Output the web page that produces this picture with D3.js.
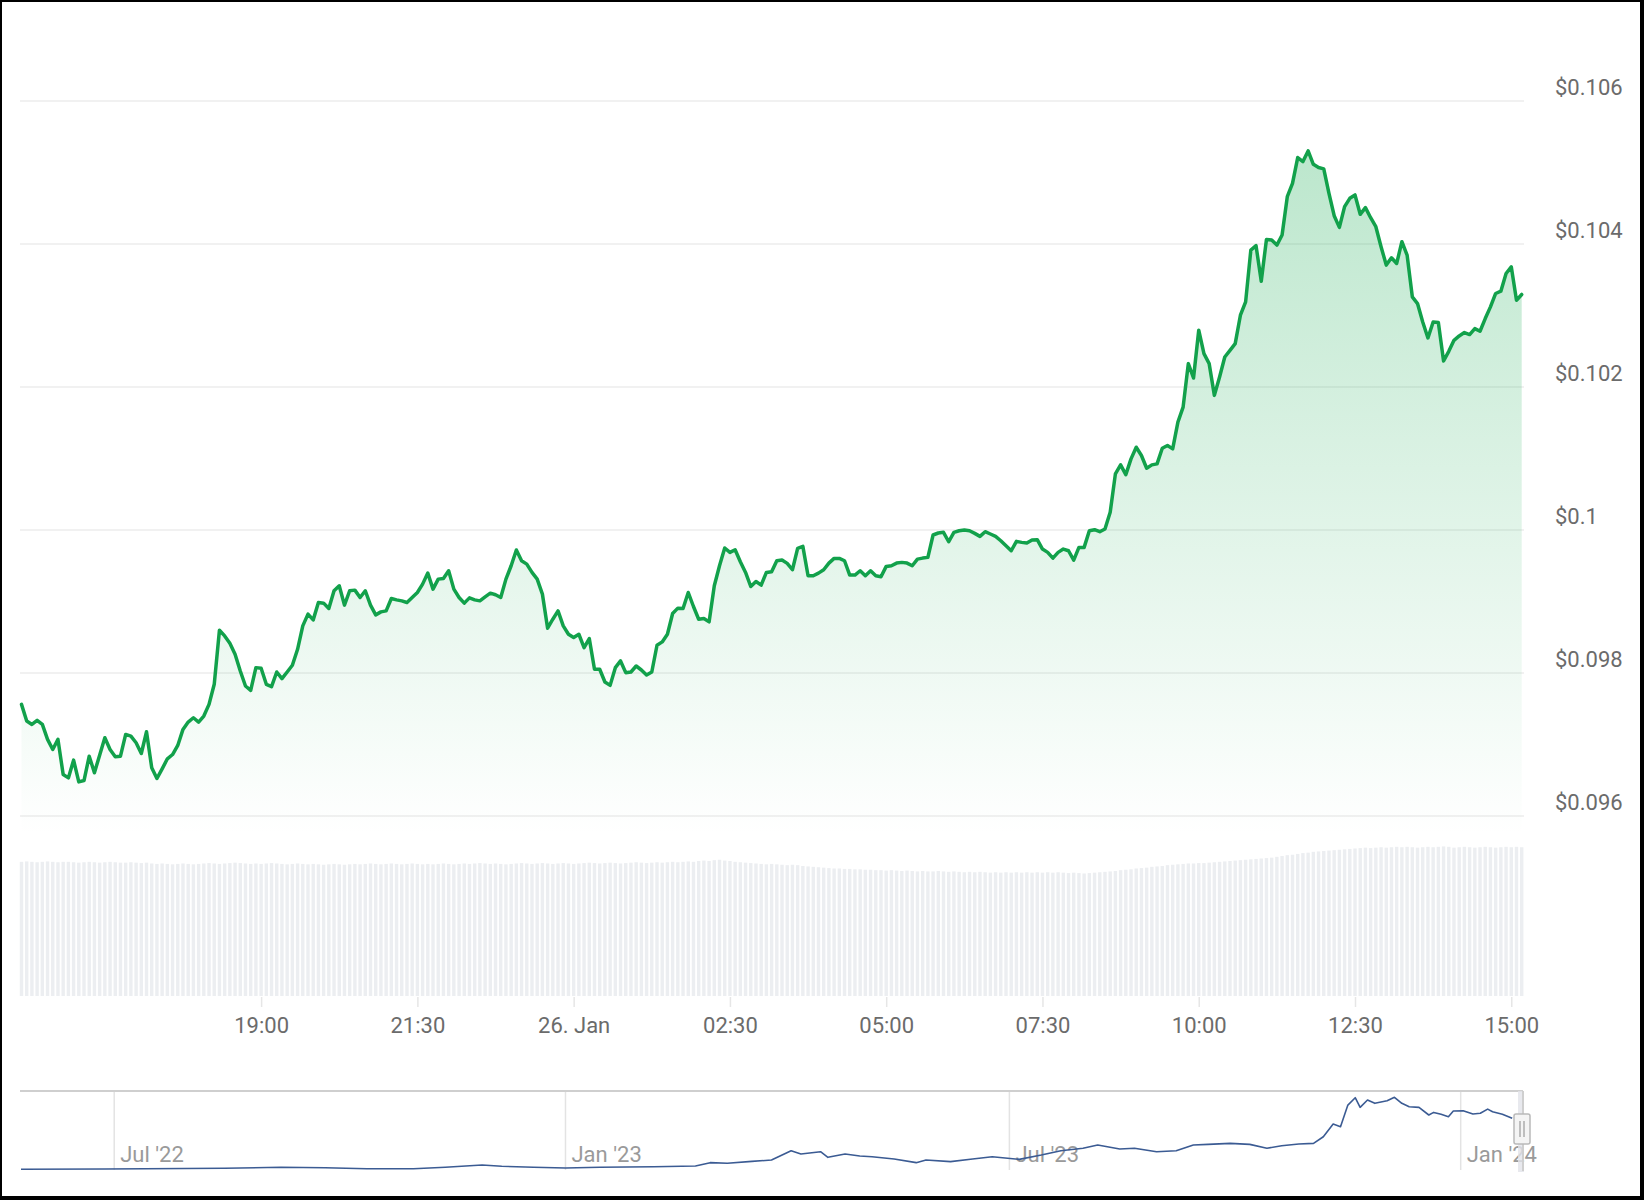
<!DOCTYPE html>
<html>
<head>
<meta charset="utf-8">
<script src="https://cdn.jsdelivr.net/npm/d3@7"></script>
<style>
  html, body { margin: 0; padding: 0; background: #ffffff; }
  svg { display: block; font-family: Roboto, "Noto Sans", sans-serif; }
</style>
</head>
<body>
<svg id="chart" width="1644" height="1200"></svg>
<script>
// ---------------- DATA ----------------
const priceStart = "2024-01-25T15:10:00";
const priceStepMinutes = 5;
const prices = [
0.097561,0.097328,0.097281,0.097337,0.097281,0.097071,0.096931,0.097071,0.096580,0.096533,
0.096781,0.096477,0.096496,0.096837,0.096604,0.096851,0.097094,0.096931,0.096828,0.096837,
0.097141,0.097117,0.097024,0.096874,0.097178,0.096674,0.096524,0.096660,0.096800,0.096860,
0.096987,0.097211,0.097314,0.097374,0.097314,0.097398,0.097561,0.097842,0.098598,0.098519,
0.098416,0.098262,0.098028,0.097818,0.097757,0.098075,0.098066,0.097842,0.097809,0.098014,
0.097921,0.098014,0.098108,0.098332,0.098659,0.098823,0.098743,0.098986,0.098977,0.098902,
0.099150,0.099220,0.098949,0.099150,0.099159,0.099056,0.099150,0.098949,0.098813,0.098855,
0.098869,0.099042,0.099023,0.099009,0.098986,0.099056,0.099126,0.099243,0.099397,0.099173,
0.099313,0.099322,0.099430,0.099173,0.099056,0.098977,0.099051,0.099023,0.099009,0.099065,
0.099117,0.099094,0.099056,0.099313,0.099500,0.099720,0.099570,0.099523,0.099407,0.099313,
0.099103,0.098626,0.098752,0.098869,0.098659,0.098542,0.098496,0.098542,0.098355,0.098482,
0.098052,0.098052,0.097874,0.097827,0.098075,0.098169,0.098005,0.098014,0.098098,0.098042,
0.097972,0.098014,0.098388,0.098435,0.098542,0.098832,0.098907,0.098902,0.099126,0.098930,
0.098752,0.098762,0.098715,0.099220,0.099500,0.099748,0.099687,0.099724,0.099556,0.099407,
0.099210,0.099280,0.099229,0.099407,0.099416,0.099570,0.099579,0.099533,0.099444,0.099743,
0.099771,0.099360,0.099360,0.099397,0.099444,0.099537,0.099603,0.099603,0.099570,0.099369,
0.099369,0.099430,0.099360,0.099430,0.099360,0.099346,0.099491,0.099500,0.099537,0.099547,
0.099537,0.099500,0.099593,0.099607,0.099617,0.099930,0.099958,0.099967,0.099836,0.099967,
0.099990,0.100000,0.099990,0.099953,0.099911,0.099976,0.099944,0.099911,0.099850,0.099780,
0.099710,0.099841,0.099827,0.099818,0.099860,0.099865,0.099733,0.099687,0.099607,0.099687,
0.099733,0.099710,0.099579,0.099757,0.099757,0.099990,0.100004,0.099976,0.100014,0.100247,
0.100785,0.100911,0.100775,0.100995,0.101158,0.101042,0.100864,0.100911,0.100925,0.101144,
0.101182,0.101135,0.101509,0.101719,0.102327,0.102126,0.102794,0.102467,0.102327,0.101883,
0.102140,0.102420,0.102513,0.102607,0.103004,0.103191,0.103915,0.103976,0.103480,0.104064,
0.104055,0.103985,0.104125,0.104662,0.104849,0.105209,0.105153,0.105302,0.105115,0.105069,
0.105050,0.104709,0.104396,0.104233,0.104522,0.104639,0.104686,0.104415,0.104508,0.104368,
0.104242,0.103962,0.103705,0.103807,0.103728,0.104032,0.103845,0.103261,0.103167,0.102910,
0.102686,0.102910,0.102901,0.102364,0.102499,0.102653,0.102714,0.102761,0.102733,0.102817,
0.102780,0.102957,0.103121,0.103308,0.103340,0.103588,0.103681,0.103214,0.103294
];
// volumes (million USD, 24h rolling), one per price point
const volumes = [
322,323,322,321,322,323,322,321,322,322,321,320,321,322,321,320,321,322,321,320,320,321,320,319,320,
318,317,318,317,316,317,318,317,316,317,318,319,318,317,318,319,320,319,318,317,318,317,318,319,318,
317,316,317,318,317,316,317,316,315,316,317,316,315,316,317,316,317,318,317,316,317,318,317,316,317,
318,317,316,317,316,317,318,317,316,317,318,317,318,319,318,317,318,317,316,317,318,319,318,317,318,
319,318,317,318,319,318,317,318,319,320,319,318,319,320,319,318,319,320,321,320,319,320,321,320,321,
322,321,322,323,322,324,325,324,326,327,325,324,322,321,320,319,318,317,316,317,316,315,314,315,314,
312,311,310,309,308,307,306,306,305,305,304,304,303,303,302,302,301,302,301,300,301,300,299,300,299,
299,300,299,298,299,298,297,298,297,298,297,296,297,296,297,296,297,296,297,296,297,296,297,296,297,
296,295,296,295,294,295,296,297,298,299,300,302,303,304,306,307,308,310,311,312,314,315,316,317,318,
318,319,319,320,321,322,323,324,325,326,327,328,329,330,331,332,334,336,338,339,341,343,344,346,347,
348,349,350,351,352,353,354,355,356,355,356,357,356,357,358,357,358,357,356,357,358,357,358,359,358,
356,357,358,357,356,357,358,357,356,357,358,357,358,357
];
const yTickValues = [0.096, 0.098, 0.1, 0.102, 0.104, 0.106];
const yTickLabels = ["$0.096", "$0.098", "$0.1", "$0.102", "$0.104", "$0.106"];
const xTickTimes = ["2024-01-25T19:00:00","2024-01-25T21:30:00","2024-01-26T00:00:00","2024-01-26T02:30:00",
  "2024-01-26T05:00:00","2024-01-26T07:30:00","2024-01-26T10:00:00","2024-01-26T12:30:00","2024-01-26T15:00:00"];
const xTickLabels = ["19:00","21:30","26. Jan","02:30","05:00","07:30","10:00","12:30","15:00"];

// navigator (long history)
const navDates = ["2022-05-24","2022-06-27","2022-08-15","2022-09-07","2022-09-25","2022-10-12","2022-10-31","2022-11-13",
 "2022-11-28","2022-12-06","2022-12-19","2023-01-01","2023-01-15","2023-02-06","2023-02-23","2023-03-01","2023-03-08",
 "2023-03-18","2023-03-26","2023-04-03","2023-04-07","2023-04-15","2023-04-18","2023-04-25","2023-05-01","2023-05-06",
 "2023-05-15","2023-05-24","2023-05-28","2023-06-07","2023-06-16","2023-06-24","2023-07-05","2023-07-14","2023-07-22",
 "2023-07-31","2023-08-06","2023-08-15","2023-08-21","2023-08-30","2023-09-07","2023-09-14","2023-09-20","2023-09-29",
 "2023-10-07","2023-10-14","2023-10-20","2023-10-27","2023-11-02","2023-11-06","2023-11-10","2023-11-13","2023-11-16",
 "2023-11-19","2023-11-21","2023-11-24","2023-11-27","2023-12-02","2023-12-05","2023-12-08","2023-12-11","2023-12-15",
 "2023-12-19","2023-12-21","2023-12-24","2023-12-27","2023-12-29","2024-01-02","2024-01-06","2024-01-09","2024-01-12",
 "2024-01-14","2024-01-18","2024-01-22"];
const navValues = [0.0598,0.0600,0.0605,0.0612,0.0609,0.0602,0.0602,0.0612,
 0.0628,0.0619,0.0612,0.0607,0.0612,0.0616,0.0621,0.0644,0.0640,
 0.0653,0.0662,0.0727,0.0704,0.0720,0.0681,0.0704,0.0690,0.0685,
 0.0669,0.0644,0.0662,0.0651,0.0669,0.0685,0.0667,0.0697,0.0727,
 0.0744,0.0767,0.0739,0.0744,0.0720,0.0727,0.0767,0.0771,0.0778,
 0.0771,0.0744,0.0762,0.0774,0.0778,0.0824,0.0912,0.0894,0.1044,
 0.1095,0.1028,0.1079,0.1056,0.1074,0.1098,0.1056,0.1032,0.1028,
 0.0975,0.0993,0.0980,0.0963,0.1003,0.1005,0.0982,0.0987,0.1016,
 0.0998,0.0980,0.0952];
const navTickDates = ["2022-07-01","2023-01-01","2023-07-01","2024-01-01"];
const navTickLabels = ["Jul '22","Jan '23","Jul '23","Jan '24"];

// ---------------- DRAW ----------------
const svg = d3.select("#chart");
const parseT = d3.isoParse;
const t0 = new Date(priceStart);
const series = prices.map((v, i) => ({
  t: new Date(t0.getTime() + i * priceStepMinutes * 60000), v, vol: volumes[i]
}));
const tEnd = series[series.length - 1].t;

const x = d3.scaleTime().domain([t0, tEnd]).range([21.5, 1521.7]);
const y = d3.scaleLinear().domain([0.096, 0.106]).range([816, 101]);
const yVol = d3.scaleLinear().domain([0, 360]).range([996, 846]);

const plotLeft = 20, plotRight = 1524;

// gridlines
svg.append("g").selectAll("line").data(yTickValues).join("line")
  .attr("x1", plotLeft).attr("x2", plotRight)
  .attr("y1", d => y(d)).attr("y2", d => y(d))
  .attr("stroke", "#ececec").attr("stroke-width", 1.5);

// y labels
svg.append("g").selectAll("text").data(yTickValues).join("text")
  .attr("x", 1555).attr("y", d => y(d) - 6)
  .attr("fill", "#6b6b6b").attr("font-size", 22)
  .text((d, i) => yTickLabels[i]);

// gradient
const defs = svg.append("defs");
const grad = defs.append("linearGradient").attr("id", "areaGrad")
  .attr("gradientUnits", "userSpaceOnUse").attr("x1", 0).attr("x2", 0)
  .attr("y1", 150).attr("y2", 835);
grad.append("stop").attr("offset", 0).attr("stop-color", "#1fae57").attr("stop-opacity", 0.30);
grad.append("stop").attr("offset", 1).attr("stop-color", "#1fae57").attr("stop-opacity", 0.0);

const area = d3.area().x(d => x(d.t)).y0(835).y1(d => y(d.v));
svg.append("path").datum(series).attr("d", area).attr("fill", "url(#areaGrad)");

// volume bars
svg.append("g").selectAll("rect").data(series).join("rect")
  .attr("x", d => x(d.t) - 1.7)
  .attr("width", 3.4)
  .attr("y", d => yVol(d.vol))
  .attr("height", d => yVol(0) - yVol(d.vol))
  .attr("fill", "#eceef1");

// price line
const line = d3.line().x(d => x(d.t)).y(d => y(d.v));
svg.append("path").datum(series).attr("d", line)
  .attr("fill", "none").attr("stroke", "#12a14b").attr("stroke-width", 3.5)
  .attr("stroke-linejoin", "round").attr("stroke-linecap", "round");

// x axis
const xTicks = xTickTimes.map(s => new Date(s));
const xAxis = d3.axisBottom(x).tickValues(xTicks).tickSize(10).tickPadding(10)
  .tickFormat((d, i) => xTickLabels[i]);
const gx = svg.append("g").attr("transform", "translate(0,997)").call(xAxis);
gx.select(".domain").remove();
gx.selectAll(".tick line").attr("stroke", "#e6e6e6").attr("stroke-width", 1.5);
gx.selectAll(".tick text").attr("fill", "#6b6b6b").attr("font-size", 22)
  .attr("font-family", "Roboto, 'Noto Sans', sans-serif");

// ---------------- NAVIGATOR ----------------
const navTop = 1091, navBottom = 1169;
const xNav = d3.scaleTime().domain([parseT("2022-05-24"), parseT("2024-01-26")]).range([21, 1522]);
const yNav = d3.scaleLinear().domain([0.06, 0.11]).range([navBottom, 1097]);

svg.append("g").selectAll("line").data(navTickDates).join("line")
  .attr("x1", d => xNav(parseT(d))).attr("x2", d => xNav(parseT(d)))
  .attr("y1", navTop).attr("y2", navBottom + 1)
  .attr("stroke", "#e3e3e3").attr("stroke-width", 1.5);

svg.append("g").selectAll("text").data(navTickDates).join("text")
  .attr("x", d => xNav(parseT(d)) + 6).attr("y", 1162)
  .attr("fill", "#9a9a9a").attr("font-size", 22)
  .text((d, i) => navTickLabels[i]);

const navData = navDates.map((d, i) => ({ t: parseT(d), v: navValues[i] }));
const navLine = d3.line().x(d => xNav(d.t)).y(d => yNav(d.v));
svg.append("path").datum(navData).attr("d", navLine)
  .attr("fill", "none").attr("stroke", "#3b5b93").attr("stroke-width", 1.6)
  .attr("stroke-linejoin", "round");

// navigator outline
svg.append("line").attr("x1", 20).attr("x2", 1523).attr("y1", navTop).attr("y2", navTop)
  .attr("stroke", "#cfcfcf").attr("stroke-width", 2);
// selected range mask
svg.append("rect").attr("x", 1518).attr("y", navTop).attr("width", 6).attr("height", navBottom - navTop + 3)
  .attr("fill", "#e2e4ea").attr("opacity", 0.8);
svg.append("line").attr("x1", 1523).attr("x2", 1523).attr("y1", navTop).attr("y2", navBottom + 2)
  .attr("stroke", "#cfcfcf").attr("stroke-width", 2);
// handle
const hg = svg.append("g");
hg.append("rect").attr("x", 1514).attr("y", 1114).attr("width", 16).attr("height", 30).attr("rx", 2)
  .attr("fill", "#f4f4f4").attr("stroke", "#b9b9b9").attr("stroke-width", 1.5);
hg.append("line").attr("x1", 1520).attr("x2", 1520).attr("y1", 1121).attr("y2", 1137).attr("stroke", "#999").attr("stroke-width", 1.2);
hg.append("line").attr("x1", 1524).attr("x2", 1524).attr("y1", 1121).attr("y2", 1137).attr("stroke", "#999").attr("stroke-width", 1.2);

// outer black frame
svg.append("rect").attr("x", 0).attr("y", 0).attr("width", 1644).attr("height", 2).attr("fill", "#000");
svg.append("rect").attr("x", 0).attr("y", 0).attr("width", 2).attr("height", 1200).attr("fill", "#000");
svg.append("rect").attr("x", 1640).attr("y", 0).attr("width", 4).attr("height", 1200).attr("fill", "#000");
svg.append("rect").attr("x", 0).attr("y", 1196).attr("width", 1644).attr("height", 4).attr("fill", "#000");
</script>
</body>
</html>
